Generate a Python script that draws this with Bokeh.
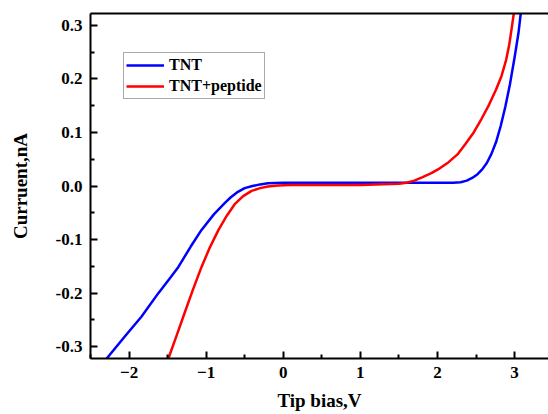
from bokeh.plotting import figure
from bokeh.models import LinearAxis, Legend, LegendItem, Range1d, FixedTicker
from bokeh.embed import file_html
from bokeh.resources import INLINE

# TNT (blue)
tnt_v = [-2.29, -2.05, -1.84, -1.62, -1.48, -1.36, -1.2, -1.06, -0.9, -0.76, -0.68, -0.6, -0.5, -0.4,
         -0.3, -0.2, 0.0, 0.5, 1.0, 1.5, 2.0, 2.2, 2.3, 2.38, 2.45, 2.52, 2.58, 2.64, 2.7, 2.76,
         2.82, 2.88, 2.94, 3.0, 3.05, 3.08]
tnt_i = [-0.322, -0.28, -0.244, -0.2, -0.174, -0.151, -0.113, -0.082, -0.053, -0.032, -0.021, -0.012, -0.004, 0.0,
         0.003, 0.005, 0.006, 0.006, 0.006, 0.006, 0.006, 0.006, 0.007, 0.01, 0.015, 0.022, 0.031, 0.043, 0.06, 0.082,
         0.112, 0.148, 0.19, 0.24, 0.285, 0.322]

# TNT+peptide (red)
pep_v = [-1.49, -1.38, -1.28, -1.17, -1.06, -0.95, -0.84, -0.73, -0.63, -0.52, -0.41, -0.3, -0.2, -0.07,
         0.1, 0.5, 1.0, 1.5, 1.6, 1.7, 1.8, 1.92, 2.03, 2.14, 2.26, 2.36, 2.47, 2.57, 2.67, 2.76,
         2.83, 2.89, 2.93, 2.96, 2.99]
pep_i = [-0.322, -0.278, -0.237, -0.193, -0.151, -0.114, -0.082, -0.055, -0.034, -0.019, -0.009, -0.004, -0.001, 0.001,
         0.002, 0.002, 0.002, 0.004, 0.006, 0.01, 0.016, 0.024, 0.033, 0.044, 0.059, 0.078, 0.1, 0.125, 0.152, 0.18,
         0.205, 0.235, 0.263, 0.292, 0.322]

x_ticks = [-2, -1, 0, 1, 2, 3]
y_ticks = [-0.3, -0.2, -0.1, 0.0, 0.1, 0.2, 0.3]
y_labels = {-0.3: "-0.3", -0.2: "-0.2", -0.1: "-0.1", 0.0: "0.0", 0.1: "0.1", 0.2: "0.2", 0.3: "0.3"}

FONT = "Liberation Serif"

p = figure(width=548, height=414, output_backend="svg", toolbar_location=None,
           x_range=Range1d(-2.5, 3.44), y_range=Range1d(-0.322, 0.322),
           min_border_left=90, min_border_right=0, min_border_top=13, min_border_bottom=56,
           x_axis_label="Tip bias,V", y_axis_label="Curruent,nA")
p.xgrid.visible = False
p.ygrid.visible = False
p.outline_line_color = None
p.background_fill_color = "white"
p.border_fill_color = "white"

r1 = p.line(tnt_v, tnt_i, line_color="#0000ff", line_width=2.5, line_join="round")
r2 = p.line(pep_v, pep_i, line_color="#ff0000", line_width=2.5, line_join="round")

for ax in (p.xaxis[0], p.yaxis[0]):
    ax.axis_line_width = 2
    ax.axis_line_color = "black"
    ax.major_tick_line_width = 2
    ax.minor_tick_line_width = 2
    ax.major_tick_in = 7
    ax.major_tick_out = 0
    ax.minor_tick_in = 4
    ax.minor_tick_out = 0
    ax.major_label_text_font = FONT
    ax.major_label_text_font_style = "bold"
    ax.major_label_text_font_size = "17px"
    ax.major_label_text_color = "black"
    ax.major_label_text_line_height = 1.0
    ax.axis_label_text_font = FONT
    ax.axis_label_text_font_style = "bold"
    ax.axis_label_text_font_size = "19px"
    ax.axis_label_text_color = "black"
    ax.axis_label_text_line_height = 1.0

p.xaxis[0].ticker = FixedTicker(ticks=x_ticks, minor_ticks=[-2.5, -1.5, -0.5, 0.5, 1.5, 2.5])
p.yaxis[0].ticker = FixedTicker(ticks=y_ticks, minor_ticks=[-0.25, -0.15, -0.05, 0.05, 0.15, 0.25])
p.yaxis[0].major_label_overrides = y_labels
p.xaxis[0].major_label_standoff = 8
p.yaxis[0].major_label_standoff = 8
p.xaxis[0].axis_label_standoff = 9
p.yaxis[0].axis_label_standoff = 22

top = LinearAxis(axis_line_width=2, axis_line_color="black",
                 major_tick_line_color=None, minor_tick_line_color=None,
                 major_label_text_font_size="0px", ticker=FixedTicker(ticks=[]))
p.add_layout(top, "above")

legend = Legend(items=[LegendItem(label="TNT", renderers=[r1]),
                       LegendItem(label="TNT+peptide", renderers=[r2])],
                location=(33, 259), orientation="vertical",
                padding=2, margin=0, spacing=1, label_standoff=5,
                glyph_width=38, glyph_height=20, label_height=20,
                label_text_font=FONT, label_text_font_style="bold",
                label_text_font_size="16px", label_text_color="black",
                border_line_color="#555555", border_line_width=1,
                background_fill_color="white", background_fill_alpha=1)
p.add_layout(legend)

open("out.html", "w").write(file_html(p, INLINE))
